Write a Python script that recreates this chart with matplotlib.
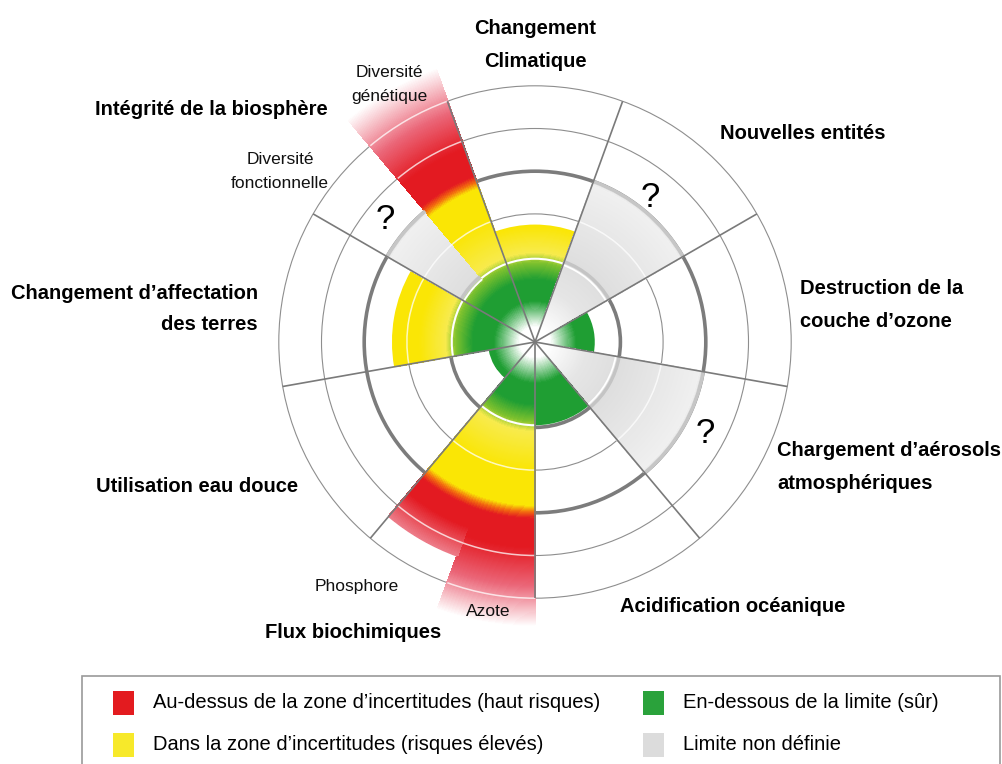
import numpy as np
import matplotlib
matplotlib.use("Agg")
import matplotlib.pyplot as plt
from matplotlib.patches import Wedge, Rectangle, Arc
from matplotlib.collections import PatchCollection

# --- données : 9 limites planétaires, sous-variables dans le sens horaire ---
limites = ["Changement\nClimatique", "Nouvelles entités",
           "Destruction de la\ncouche d’ozone",
           "Chargement d’aérosols\natmosphériques", "Acidification océanique",
           "Flux biochimiques", "Utilisation eau douce",
           "Changement d’affectation\ndes terres", "Intégrité de la biosphère"]
sous_variables = [[""], [""], [""], [""], [""], ["Azote", "Phosphore"], [""], [""],
                  ["Diversité\nfonctionnelle", "Diversité\ngénétique"]]
# valeur normalisée (2 = limite, 4 = fin de la zone d'incertitude)
valeurs = [[2.75], [4.0], [1.4], [4.0], [1.95], [6.65, 5.35], [1.1], [3.35], [4.0, 6.8]]
statuts = [["incertain"], ["non_definie"], ["sur"], ["non_definie"], ["sur"],
           ["haut", "haut"], ["sur"], ["incertain"], ["non_definie", "haut"]]
anneaux = [2, 3, 4, 5, 6]
anneaux_epais = [2, 4]

legende = [("Au-dessus de la zone d’incertitudes (haut risques)", "#e31b1f"),
           ("Dans la zone d’incertitudes (risques élevés)", "#f7e92a"),
           ("En-dessous de la limite (sûr)", "#2aa23b"),
           ("Limite non définie", "#dcdcdc")]

W, H = 1003, 764
U, CX, CY = 42.7, 535, 342   # pixels par unité, centre

B = (1, 1, 1)
V = (0.12, 0.62, 0.20)
VC = (0.50, 0.76, 0.18)
J = (0.97, 0.92, 0.30)
JF = (0.98, 0.90, 0.02)
O = (0.95, 0.42, 0.06)
R = (0.89, 0.10, 0.13)
G1 = (0.87, 0.87, 0.87)
G2 = (0.94, 0.94, 0.94)


def paliers(statut, v, fonctionnelle=False):
    vert = [(0.0, B), (0.35, B), (0.95, V), (1.45, V)]
    if statut == "sur":
        pts = [(0.0, B), (0.35, B), (0.95, V), (max(v, 1.0), V)]
    elif statut == "incertain":
        pts = vert + [(1.85, VC), (2.08, J), (2.7, JF), (v, JF)]
    elif statut == "haut":
        pts = vert + [(1.85, VC), (2.08, J), (3.0, JF), (3.82, JF), (3.97, O), (4.12, R)]
        if v > 6:
            pts += [(4.8, R), (5.7, (0.92, 0.40, 0.47)), (v, (1, 1, 1))]
        else:
            pts += [(4.6, R), (v, (0.93, 0.50, 0.55))]
    else:
        if fonctionnelle:
            pts = vert + [(1.85, VC), (1.98, G1), (3.9, G2), (v, G1)]
        else:
            pts = [(0.0, B), (0.3, B), (1.2, (0.90, 0.90, 0.90)), (2.0, G1), (3.9, G2), (v, G1)]
    r = np.array([p[0] for p in pts])
    c = np.array([p[1] for p in pts])
    return lambda x: tuple(np.interp(x, r, c[:, k]) for k in range(3))


def px(x, y):
    return (x - CX) / U, (CY - y) / U


fig = plt.figure(figsize=(W / 100, H / 100), dpi=100)
ax = fig.add_axes([0, 0, 1, 1])
ax.set_xlim(-CX / U, (W - CX) / U)
ax.set_ylim(-(H - CY) / U, CY / U)
ax.axis("off")

# anneaux de fond
for r in anneaux:
    epais = r in anneaux_epais
    ax.add_patch(plt.Circle((0, 0), r, fill=False, ec="#7c7c7c" if epais else "#8e8e8e",
                            lw=2.6 if epais else 0.8, zorder=1))

# secteurs en dégradé (tartes empilées de l'extérieur vers le centre)
segments = []
for i, subs in enumerate(sous_variables):
    n = len(subs)
    for j in range(n):
        a0 = i * 40 - 20 + j * 40 / n
        a1 = a0 + 40 / n
        segments.append((a0, a1, valeurs[i][j], statuts[i][j], i == 8 and j == 0))

dr = 0.025
for a0, a1, v, st, fonc in segments:
    f = paliers(st, v, fonc)
    rayons = np.arange(v, 0, -dr)
    # bord extérieur lissé
    ax.add_patch(Wedge((0, 0), v, 90 - a1, 90 - a0, fc=f(v - dr / 2), ec="none", zorder=2))
    patches, cols = [], []
    for r in rayons[1:]:
        patches.append(Wedge((0, 0), r, 90 - a1 - 0.15, 90 - a0 + 0.15))
        cols.append(f(r - dr / 2))
    pc = PatchCollection(patches, facecolors=cols, edgecolors="none", linewidths=0,
                         antialiaseds=False, zorder=2)
    ax.add_collection(pc)

    # reflets blancs et bordures
    if v >= 2:
        if st == "non_definie":
            ax.add_patch(Arc((0, 0), 4, 4, theta1=90 - a1, theta2=90 - a0, color="#c4c4c4", lw=2.4, zorder=3))
            ax.add_patch(Arc((0, 0), 3.84, 3.84, theta1=90 - a1, theta2=90 - a0, color="white", lw=1.3, zorder=3))
        else:
            ax.add_patch(Arc((0, 0), 3.9, 3.9, theta1=90 - a1, theta2=90 - a0, color="white", lw=1.5, zorder=3))
    for r in [3, 5, 6]:
        if v > r + 0.05:
            ax.add_patch(Arc((0, 0), 2 * r, 2 * r, theta1=90 - a1, theta2=90 - a0,
                             color="white", lw=1.1, alpha=0.75, zorder=3))
    if st == "non_definie":
        ax.add_patch(Arc((0, 0), 8, 8, theta1=90 - a1, theta2=90 - a0, color="#c6c6c6", lw=2.6, zorder=3))

# rayons
for i in range(len(limites)):
    a = np.radians(i * 40 - 20)
    ax.plot([0, 6 * np.sin(a)], [0, 6 * np.cos(a)], color="#7a7a7a", lw=1.2, zorder=5,
            solid_capstyle="butt")

# étiquettes
fam = "Liberation Sans"
txt = dict(fontsize=14.5, fontweight="bold", family=fam, color="black", zorder=6)
ax.text(*px(535, 45), limites[0], ha="center", va="center", linespacing=1.9, **txt)
ax.text(*px(720, 134), limites[1], ha="left", va="center", **txt)
ax.text(*px(800, 305), limites[2], ha="left", va="center", linespacing=1.9, **txt)
ax.text(*px(777, 467), limites[3], ha="left", va="center", linespacing=1.9, **txt)
ax.text(*px(620, 606), limites[4], ha="left", va="center", **txt)
ax.text(*px(441, 633), limites[5], ha="right", va="center", **txt)
ax.text(*px(298, 486), limites[6], ha="right", va="center", **txt)
ax.text(*px(258, 309), limites[7], ha="right", va="center", linespacing=1.8, **txt)
ax.text(*px(328, 110), limites[8], ha="right", va="center", **txt)

sub = dict(fontsize=12.5, family=fam, color="#111111", zorder=6, linespacing=1.75)
ax.text(*px(389, 85), sous_variables[8][1], ha="center", va="center", **sub)
ax.text(*px(280, 172), sous_variables[8][0], ha="center", va="center", **sub)
ax.text(*px(357, 586), sous_variables[5][1], ha="center", va="center", **sub)
ax.text(*px(488, 611), sous_variables[5][0], ha="center", va="center", **sub)

for x, y in [(385, 220), (650, 198), (705, 434)]:
    ax.text(*px(x, y), "?", fontsize=25, family=fam, ha="center", va="center", zorder=6)

# légende
x0, y0 = px(82, 676)
x1, y1 = px(1000, 772)
ax.add_patch(Rectangle((x0, y1), x1 - x0, y0 - y1, fill=False, ec="#9a9a9a", lw=1.2, zorder=6))
pos = [(113, 703), (113, 745), (643, 703), (643, 745)]
for (lab, col), (x, y) in zip(legende, pos):
    cx, cy = px(x, y - 12)
    cx2, cy2 = px(x + 21, y + 12)
    ax.add_patch(Rectangle((cx, cy2), cx2 - cx, cy - cy2, fc=col, ec="none", zorder=6))
    ax.text(*px(x + 40, y), lab, fontsize=14.5, family=fam, ha="left", va="center", zorder=6)

fig.savefig("out.png", dpi=100)
